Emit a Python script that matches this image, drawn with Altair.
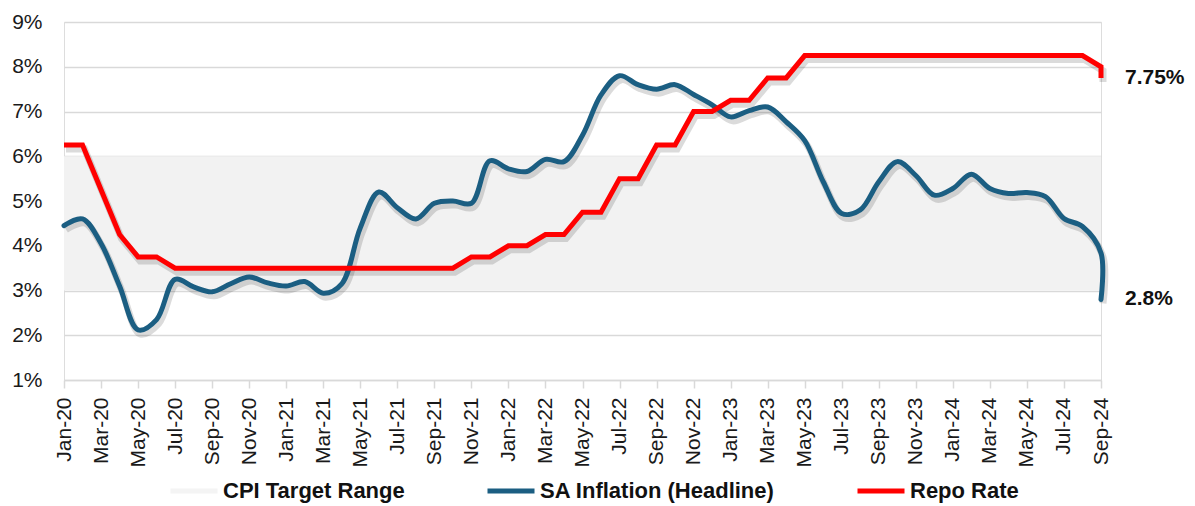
import altair as alt
import pandas as pd

months = [
    "Jan-20", "Feb-20", "Mar-20", "Apr-20", "May-20", "Jun-20", "Jul-20", "Aug-20", "Sep-20", "Oct-20", "Nov-20", "Dec-20",
    "Jan-21", "Feb-21", "Mar-21", "Apr-21", "May-21", "Jun-21", "Jul-21", "Aug-21", "Sep-21", "Oct-21", "Nov-21", "Dec-21",
    "Jan-22", "Feb-22", "Mar-22", "Apr-22", "May-22", "Jun-22", "Jul-22", "Aug-22", "Sep-22", "Oct-22", "Nov-22", "Dec-22",
    "Jan-23", "Feb-23", "Mar-23", "Apr-23", "May-23", "Jun-23", "Jul-23", "Aug-23", "Sep-23", "Oct-23", "Nov-23", "Dec-23",
    "Jan-24", "Feb-24", "Mar-24", "Apr-24", "May-24", "Jun-24", "Jul-24", "Aug-24", "Sep-24",
]

inflation = [
    4.45, 4.6, 4.05, 3.1, 2.12, 2.35, 3.25, 3.08, 2.97, 3.15, 3.3, 3.17,
    3.1, 3.2, 2.94, 3.15, 4.4, 5.2, 4.85, 4.6, 4.95, 5.0, 4.95, 5.9,
    5.72, 5.66, 5.93, 5.88, 6.47, 7.37, 7.8, 7.6, 7.5, 7.6, 7.38, 7.15,
    6.88, 7.02, 7.1, 6.77, 6.35, 5.43, 4.72, 4.8, 5.43, 5.88, 5.57, 5.13,
    5.28, 5.6, 5.28, 5.17, 5.19, 5.1, 4.61, 4.43, 3.84,
]
inflation_latest = 2.8

repo = [
    6.25, 6.25, 5.25, 4.25, 3.75, 3.75, 3.5, 3.5, 3.5, 3.5, 3.5, 3.5,
    3.5, 3.5, 3.5, 3.5, 3.5, 3.5, 3.5, 3.5, 3.5, 3.5, 3.75, 3.75,
    4.0, 4.0, 4.25, 4.25, 4.75, 4.75, 5.5, 5.5, 6.25, 6.25, 7.0, 7.0,
    7.25, 7.25, 7.75, 7.75, 8.25, 8.25, 8.25, 8.25, 8.25, 8.25, 8.25, 8.25,
    8.25, 8.25, 8.25, 8.25, 8.25, 8.25, 8.25, 8.25, 8.0,
]
repo_latest = 7.75

target_low, target_high = 3, 6

series_names = ["CPI Target Range", "SA Inflation (Headline)", "Repo Rate"]
series_colors = ["#f4f4f4", "#1B5E82", "#FF0000"]

last = len(months) - 1

rows = []
for name, vals, latest in [
    (series_names[1], inflation, inflation_latest),
    (series_names[2], repo, repo_latest),
]:
    for i, v in enumerate(vals):
        rows.append({"idx": i, "value": v, "series": name, "seq": i, "label": ""})
    rows.append({"idx": last, "value": latest, "series": name, "seq": last + 1,
                 "label": f"{latest}%"})
df = pd.DataFrame(rows)
band_df = pd.DataFrame([{"idx": 0, "end": last, "value": target_low, "hi": target_high}])

label_js = "[" + ",".join(f"'{m}'" for m in months) + "][datum.value]"

x_scale = alt.Scale(domain=[0, last], nice=False, zero=False)
y_scale = alt.Scale(domain=[1, 9], nice=False, zero=False)

x_axis = alt.Axis(
    values=list(range(0, len(months), 2)),
    labelExpr=label_js,
    labelOverlap=False,
    title=None,
    grid=False,
    labelAngle=270,
    labelFontSize=21,
    labelPadding=9,
    labelColor="#1a1a1a",
    domainColor="#d9d9d9",
    domainWidth=1.5,
    tickColor="#d9d9d9",
    tickWidth=1.5,
    tickSize=8,
)
y_axis = alt.Axis(
    values=list(range(1, 10)),
    labelExpr="datum.value + '%'",
    title=None,
    domain=False,
    ticks=False,
    grid=True,
    gridColor="#d9d9d9",
    gridWidth=1.5,
    labelFontSize=21,
    labelPadding=22,
    labelColor="#1a1a1a",
)

x_main = alt.X("idx:Q", scale=x_scale, axis=x_axis)
y_main = alt.Y("value:Q", scale=y_scale, axis=y_axis)

color_enc = alt.Color(
    "series:N",
    scale=alt.Scale(domain=series_names, range=series_colors),
    legend=alt.Legend(
        title=None,
        orient="none",
        legendX=104,
        legendY=443,
        direction="horizontal",
        columnPadding=72,
        symbolType="stroke",
        symbolStrokeWidth=5,
        symbolSize=2209,
        labelFontSize=22,
        labelFontWeight="bold",
        labelColor="#111111",
        labelOffset=3,
        labelLimit=400,
    ),
)

base = alt.Chart(df)

band = alt.Chart(band_df).mark_rect(color="#f2f2f2").encode(
    x=x_main, x2="end:Q", y=y_main, y2="hi:Q"
)

blue_f = alt.datum.series == series_names[1]
red_f = alt.datum.series == series_names[2]

shadow_blue = base.transform_filter(blue_f).mark_line(
    interpolate="catmull-rom", color="#000000", opacity=0.14, strokeWidth=7,
    xOffset=2, yOffset=4,
).encode(x=x_main, y=y_main, order="seq:Q")
shadow_red = base.transform_filter(red_f).mark_line(
    color="#000000", opacity=0.14, strokeWidth=7, xOffset=2, yOffset=4,
).encode(x=x_main, y=y_main, order="seq:Q")

blue_line = base.transform_filter(blue_f).mark_line(
    interpolate="catmull-rom", strokeWidth=5, strokeCap="round", strokeJoin="round",
).encode(x=x_main, y=y_main, color=color_enc, order="seq:Q")
red_line = base.transform_filter(red_f).mark_line(
    strokeWidth=5, strokeJoin="miter",
).encode(x=x_main, y=y_main, color=color_enc, order="seq:Q")

end_labels = base.transform_filter(alt.datum.label != "").mark_text(
    align="left", baseline="middle", dx=24, fontSize=21, fontWeight="bold",
    color="#111111", font="Liberation Sans",
).encode(x=x_main, y=y_main, text="label:N")

chart = alt.layer(band, shadow_blue, shadow_red, blue_line, red_line, end_labels).properties(
    width=1037,
    height=358,
    autosize="none",
    padding={"left": 56, "top": 14, "right": 86, "bottom": 124},
).configure_view(strokeWidth=0, stroke="transparent").configure(font="Liberation Sans")

chart.save("out.html", embed_options={"renderer": "svg", "actions": False})
